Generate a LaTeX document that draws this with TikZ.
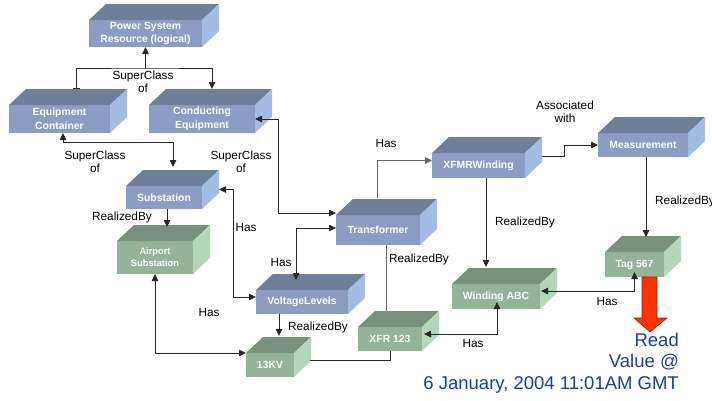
\documentclass[tikz,border=0pt]{standalone}
\usepackage{fontspec}
\setmainfont{Liberation Sans}
\usetikzlibrary{arrows.meta}

\definecolor{bluefront}{RGB}{139,157,195}
\definecolor{bluetop}{RGB}{110,127,155}
\definecolor{blueside}{RGB}{163,189,226}
\definecolor{greenfront}{RGB}{148,180,154}
\definecolor{greentop}{RGB}{118,145,124}
\definecolor{greenside}{RGB}{180,214,186}
\definecolor{linegray}{RGB}{40,40,40}
\definecolor{arrowred}{RGB}{255,51,0}
\definecolor{arrowdark}{RGB}{150,30,0}
\definecolor{noteblue}{RGB}{30,60,165}

\tikzset{
  >={Triangle[length=7pt,width=6.5pt]},
  conn/.style={draw=linegray, line width=0.8pt},
  boxface/.style={inner sep=0pt, outer sep=0pt, text=white, align=center,
    font=\fontsize{10.4pt}{13.5pt}\selectfont\bfseries},
  smallface/.style={font=\fontsize{9.3pt}{12pt}\selectfont\bfseries},
  lbl/.style={inner sep=0pt, align=center, font=\fontsize{11.8pt}{13.5pt}\selectfont},
}

% 3-D block: name, x1, y1, x2, y2 (front face), colour family, extra style, text
\newcommand\cubebox[8]{%
  \node[boxface, fill=#6front, minimum width={(#4-#2)*1pt},
        minimum height={(#5-#3)*1pt}, #7] (#1) at ({(#2+#4)/2},{(#3+#5)/2}) {#8};
  \fill[#6top] (#1.north west) -- ++(17,-16) -- ([shift={(17,-16)}]#1.north east)
     -- (#1.north east) -- cycle;
  \fill[#6side] (#1.north east) -- ++(17,-16) -- ([shift={(17,-16)}]#1.south east)
     -- (#1.south east) -- cycle;
}

\begin{document}
\begin{tikzpicture}[x=1pt,y=-1pt]
\useasboundingbox (0,0) rectangle (712,400);
\fill[white] (0,0) rectangle (712,400);

% blocks
\cubebox{psr}{89}{20}{202}{47}{blue}{}{Power System\\Resource (logical)}
\cubebox{ec}{9}{105}{110}{133}{blue}{}{Equipment\\Container}
\cubebox{ce}{149}{105}{255}{133}{blue}{}{Conducting\\Equipment}
\cubebox{sub}{126}{186}{202}{209}{blue}{}{Substation}
\cubebox{air}{117}{241}{193}{274}{green}{smallface}{Airport\\Substation}
\cubebox{vl}{256}{290}{348}{314}{blue}{}{VoltageLevels}
\cubebox{kv}{246}{353}{294}{377}{green}{}{13KV}
\cubebox{tr}{336}{215}{420}{245}{blue}{}{Transformer}
\cubebox{xfr}{358}{327}{422}{351}{green}{}{XFR 123}
\cubebox{xw}{432}{153}{525}{178}{blue}{}{XFMRWinding}
\cubebox{meas}{598}{133}{688}{157}{blue}{}{Measurement}
\cubebox{wabc}{452}{284}{540}{309}{green}{}{Winding ABC}
\cubebox{tag}{605}{252}{664}{277}{green}{}{Tag 567}

% connectors
\draw[conn,<-] (psr.south) -- ++(0,21) coordinate (jpsr);
\draw[conn,{Bar[width=7pt]}->] ([shift={(17,-16)}]ec.north) |- (jpsr)
   -| ([shift={(10,-16)}]ce.north);
\draw[conn,<->] ([xshift=3.5pt]ec.south) -- ++(0,9) -| ([shift={(9,-19)}]sub.north);
\draw[conn,<->] (ce.east) -- ++(23,0) |- ([yshift=2pt]tr.north west);
\draw[conn,<->] ([yshift=2pt]tr.west) -| ([shift={(-6,-10)}]vl.north);
\draw[conn,<->] ([shift={(17,-8)}]sub.east) -- ++(14,0) |- ([yshift=5pt]vl.west);
\draw[conn,->] ([xshift=3pt]sub.south) -- ([shift={(12,-14)}]air.north);
\draw[conn,<->] (air.south) |- (kv.north west);
\draw[conn,->] ([xshift=-23pt]vl.south) -- ([shift={(9,-17)}]kv.north);
\draw[conn] ([shift={(16,-5)}]kv.east) -| (xfr.south);
\draw[conn,draw=black!60] ([xshift=8pt]tr.south) -- ([shift={(-4,-16)}]xfr.north);
\draw[conn,draw=black!60,->] ([shift={(-1,-17)}]tr.north) |- ([yshift=5pt]xw.west);
\draw[conn,->] ([shift={(17,-9.5)}]xw.east) -- ++(22,0) |- (meas.west);
\draw[conn,->] ([xshift=7.5pt]xw.south) -- ([shift={(-10,-17)}]wabc.north);
\draw[conn,->] ([xshift=3pt]meas.south) -- ([shift={(11.5,-15)}]tag.north);
\draw[conn,<->] ([yshift=5pt]tag.south) |- ([shift={(1,-5.5)}]wabc.east);
\draw[conn,<->] ([shift={(2,-5)}]xfr.east) -| ([shift={(1,-7)}]wabc.south);

% relation labels
\node[lbl] (l1) at (143,82) {SuperClass\\of};
\node[lbl] (l2) at (95,162) {SuperClass\\of};
\node[lbl] (l3) at (241,162) {SuperClass\\of};
\node[lbl] (l4) at (122,217) {RealizedBy};
\node[lbl] (l5) at (246,227) {Has};
\node[lbl] (l6) at (209,312) {Has};
\node[lbl] (l7) at (281,262) {Has};
\node[lbl] (l8) at (318,327) {RealizedBy};
\node[lbl] (l9) at (419,259) {RealizedBy};
\node[lbl] (l10) at (386,143) {Has};
\node[lbl] (l11) at (565,112) {Associated\\with};
\node[lbl] (l12) at (525,222) {RealizedBy};
\node[lbl,anchor=west] (l13) at (655,201) {RealizedBy};
\node[lbl] (l14) at (607,301) {Has};
\node[lbl] (l15) at (473,343) {Has};

% read-out arrow and note
\filldraw[fill=arrowred, draw=arrowdark, line width=0.6pt]
  (642,277) -- (657,277) -- (657,318) -- (667,318) -- (650,332) -- (634,318)
  -- (642,318) -- cycle;
\node[inner sep=0pt, align=right, anchor=east, text=noteblue,
      font=\fontsize{18.5pt}{21.5pt}\selectfont] (note) at (679,363)
  {Read\\Value @\\6 January, 2004 11:01AM GMT};
\end{tikzpicture}
\end{document}
